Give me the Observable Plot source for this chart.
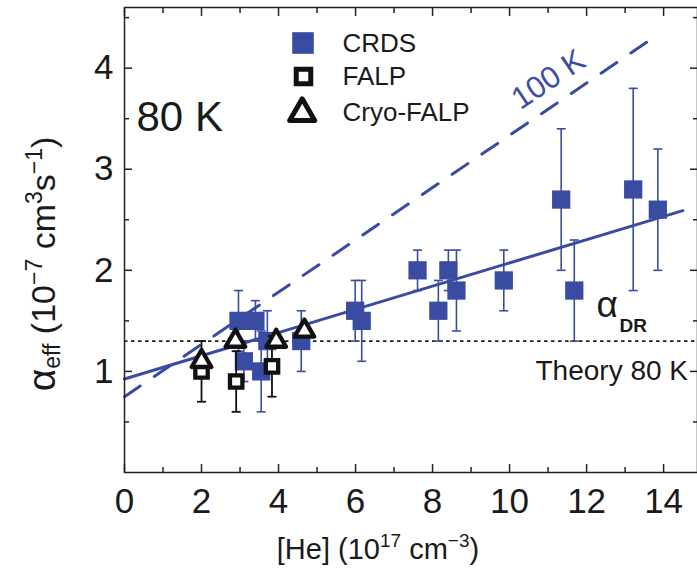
<!DOCTYPE html>
<html><head><meta charset="utf-8">
<script src="https://cdn.jsdelivr.net/npm/d3@7"></script>
<script src="https://cdn.jsdelivr.net/npm/@observablehq/plot@0.6"></script>
<style>html,body{margin:0;padding:0;background:#fff;} #chart svg{display:block}</style>
</head><body><div id="chart"></div>
<script>
// ---- data ----
const crdsX   = [2.96, 3.40, 3.71, 3.10, 3.55, 4.59, 5.99, 6.16, 7.61, 8.15, 8.41, 8.62, 9.85, 11.34, 11.68, 13.21, 13.85];
const crdsY   = [1.50, 1.50, 1.30, 1.10, 1.00, 1.30, 1.60, 1.50, 2.00, 1.60, 2.00, 1.80, 1.90, 2.70, 1.80, 2.80, 2.60];
const crdsErr = [0.30, 0.20, 0.30, 0.20, 0.40, 0.30, 0.30, 0.40, 0.20, 0.30, 0.20, 0.40, 0.30, 0.70, 0.50, 1.00, 0.60];
const falpX   = [2.00, 2.90, 3.83];
const falpY   = [1.00, 0.90, 1.05];
const falpErr = [0.30, 0.30, 0.30];
const cryoX   = [2.00, 2.88, 3.94, 4.67];
const cryoY   = [1.10, 1.30, 1.30, 1.40];
const fit80X  = [0, 14.5];
const fit80Y  = [0.925, 2.59];
const fit100X = [0, 13.73];
const fit100Y = [0.75, 4.30];
const theoryDR = [1.3];
const xMajor = [0, 2, 4, 6, 8, 10, 12, 14];
const xMinor = [1, 3, 5, 7, 9, 11, 13];
const yMajor = [1, 2, 3, 4];
const yMinor = [0.5, 1.5, 2.5, 3.5, 4.5];
const legendLabels = ["CRDS", "FALP", "Cryo-FALP"];

// ---- build ----
const crds = crdsX.map((x, i) => ({x, y: crdsY[i], e: crdsErr[i]}));
const falp = falpX.map((x, i) => ({x, y: falpY[i], e: falpErr[i]}));
const cryo = cryoX.map((x, i) => ({x, y: cryoY[i]}));
const fit80 = fit80X.map((x, i) => ({x, y: fit80Y[i]}));
const fit100 = fit100X.map((x, i) => ({x, y: fit100Y[i]}));

const BLUE = "#3a4ca1";
const INK = "#1a1a1a";
const FONT = "Arial, 'Liberation Sans', Helvetica, sans-serif";
const cap = {draw(ctx) { ctx.moveTo(-4.5, 0); ctx.lineTo(4.5, 0); }};

function tickAxes(scale, anchor, ticks, size) {
  const f = scale === "x" ? Plot.axisX : Plot.axisY;
  return f({ticks, anchor, tickSize: -size, fill: "none", stroke: "#222", strokeWidth: 1.5, label: null});
}

function titles() {
  const g = d3.create("svg:g").attr("font-family", FONT).attr("fill", INK);
  const t = g.append("text").attr("x", 378).attr("y", 559).attr("text-anchor", "middle").attr("font-size", 29);
  t.append("tspan").text("[He] (10");
  t.append("tspan").attr("dy", -12).attr("font-size", 19).text("17");
  t.append("tspan").attr("dy", 12).text(" cm");
  t.append("tspan").attr("dy", -12).attr("font-size", 19).text("\u22123");
  t.append("tspan").attr("dy", 12).text(")");
  const y = g.append("text").attr("transform", "translate(55,264) rotate(-90)").attr("text-anchor", "middle").attr("font-size", 34);
  y.append("tspan").attr("font-size", 39).text("\u03b1");
  y.append("tspan").attr("dy", 5).attr("font-size", 23).text("eff");
  y.append("tspan").attr("dy", -5).text(" (10");
  y.append("tspan").attr("dy", -13).attr("font-size", 23).text("\u22127");
  y.append("tspan").attr("dy", 13).text(" cm");
  y.append("tspan").attr("dy", -13).attr("font-size", 23).text("3");
  y.append("tspan").attr("dy", 13).text("s");
  y.append("tspan").attr("dy", -13).attr("font-size", 23).text("\u22121");
  y.append("tspan").attr("dy", 13).text(")");
  return g.node();
}

const chart = Plot.plot({
  width: 697, height: 586,
  marginLeft: 124, marginRight: 0, marginTop: 7, marginBottom: 114,
  x: {domain: [0, 14.88]},
  y: {domain: [0, 4.6]},
  style: {fontFamily: FONT, color: INK, background: "white"},
  marks: [
    Plot.ruleY(theoryDR, {y: d => d, stroke: "#222", strokeWidth: 1.6, strokeDasharray: "3.5,3.5"}),
    Plot.line(fit100, {x: "x", y: "y", stroke: BLUE, strokeWidth: 3, strokeDasharray: "19,17"}),
    Plot.line(fit80, {x: "x", y: "y", stroke: BLUE, strokeWidth: 3}),
    Plot.ruleX(crds, {x: "x", y1: d => d.y - d.e, y2: d => d.y + d.e, stroke: BLUE, strokeWidth: 1.6}),
    Plot.dot(crds, {x: "x", y: d => d.y + d.e, symbol: cap, fill: "none", stroke: BLUE, strokeWidth: 1.6}),
    Plot.dot(crds, {x: "x", y: d => d.y - d.e, symbol: cap, fill: "none", stroke: BLUE, strokeWidth: 1.6}),
    Plot.dot(crds, {x: "x", y: "y", symbol: "square", r: 10.3, fill: BLUE, stroke: "none"}),
    Plot.ruleX(falp, {x: "x", y1: d => d.y - d.e, y2: d => d.y + d.e, stroke: "#111", strokeWidth: 1.8}),
    Plot.dot(falp, {x: "x", y: d => d.y + d.e, symbol: cap, fill: "none", stroke: "#111", strokeWidth: 1.8}),
    Plot.dot(falp, {x: "x", y: d => d.y - d.e, symbol: cap, fill: "none", stroke: "#111", strokeWidth: 1.8}),
    Plot.dot(falp, {x: "x", y: "y", symbol: "square", r: 7, fill: "white", stroke: "#111", strokeWidth: 4.3}),
    Plot.dot(cryo, {x: "x", y: "y", symbol: "triangle", r: 7.3, fill: "white", stroke: "#111", strokeWidth: 4.3, strokeLinejoin: "round"}),
    // axes
    tickAxes("x", "bottom", xMajor, 8), tickAxes("x", "bottom", xMinor, 5),
    tickAxes("x", "top", xMajor, 8), tickAxes("x", "top", xMinor, 5),
    tickAxes("y", "left", yMajor, 8), tickAxes("y", "left", yMinor, 5),
    tickAxes("y", "right", yMajor, 8), tickAxes("y", "right", yMinor, 5),
    Plot.axisX({ticks: xMajor, anchor: "bottom", tickSize: 0, tickPadding: 16, fontSize: 35, label: null, tickFormat: d => String(d)}),
    Plot.axisY({ticks: yMajor, anchor: "left", tickSize: 0, tickPadding: 11, fontSize: 35, label: null, tickFormat: d => String(d)}),
    Plot.frame({stroke: "#222", strokeWidth: 1.5}),
    // legend
    Plot.dot([0], {frameAnchor: "top-left", dx: 178.5, dy: 35.5, symbol: "square", r: 12.2, fill: BLUE, stroke: "none"}),
    Plot.dot([0], {frameAnchor: "top-left", dx: 179, dy: 69, symbol: "square", r: 8.2, fill: "white", stroke: "#111", strokeWidth: 5}),
    Plot.dot([0], {frameAnchor: "top-left", dx: 177.7, dy: 105.8, symbol: "triangle", r: 9.3, fill: "white", stroke: "#111", strokeWidth: 5, strokeLinejoin: "round"}),
    Plot.text([legendLabels[0]], {frameAnchor: "top-left", dx: 218, dy: 36, textAnchor: "start", lineAnchor: "middle", fontSize: 26}),
    Plot.text([legendLabels[1]], {frameAnchor: "top-left", dx: 218, dy: 69, textAnchor: "start", lineAnchor: "middle", fontSize: 26}),
    Plot.text([legendLabels[2]], {frameAnchor: "top-left", dx: 218, dy: 105, textAnchor: "start", lineAnchor: "middle", fontSize: 26}),
    // annotations
    Plot.text(["80 K"], {frameAnchor: "top-left", dx: 12, dy: 110, textAnchor: "start", lineAnchor: "middle", fontSize: 42}),
    Plot.text(["100 K"], {frameAnchor: "top-left", dx: 424, dy: 72, textAnchor: "middle", lineAnchor: "middle", fontSize: 31, rotate: -34, fill: BLUE}),
    Plot.text(["Theory 80 K"], {frameAnchor: "top-left", dx: 411, dy: 364, textAnchor: "start", lineAnchor: "middle", fontSize: 28}),
    Plot.text(["\u03b1"], {frameAnchor: "top-left", dx: 472, dy: 298, textAnchor: "start", lineAnchor: "middle", fontSize: 37}),
    Plot.text(["DR"], {frameAnchor: "top-left", dx: 495, dy: 318, textAnchor: "start", lineAnchor: "middle", fontSize: 19, fontWeight: "bold"}),
    titles
  ]
});
document.getElementById("chart").append(chart);
</script></body></html>
